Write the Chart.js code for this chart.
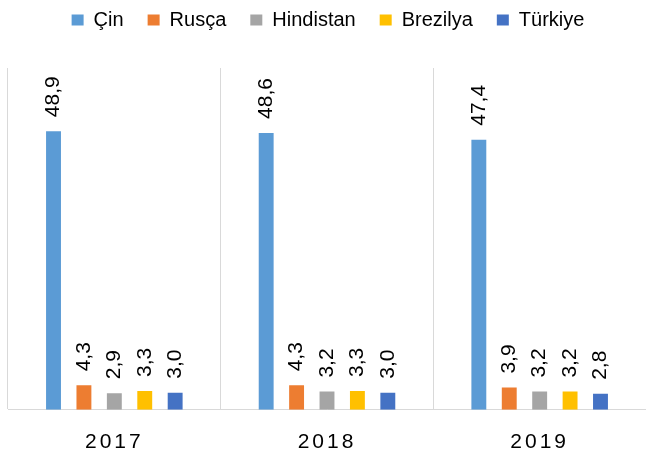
<!DOCTYPE html>
<html>
<head>
<meta charset="utf-8">
<script src="https://cdn.jsdelivr.net/npm/chart.js@4/dist/chart.umd.min.js"></script>
<style>
  html, body { margin: 0; padding: 0; background: #fff; }
  #wrap { width: 646px; height: 455px; }
</style>
</head>
<body>
<div id="wrap"><canvas id="chart"></canvas></div>
<script>
const years = ['2017', '2018', '2019'];
const cin = [48.9, 48.6, 47.4];
const rusca = [4.3, 4.3, 3.9];
const hindistan = [2.9, 3.2, 3.2];
const brezilya = [3.3, 3.3, 3.2];
const turkiye = [3.0, 3.0, 2.8];

const font = 'Liberation Sans';

// values drawn rotated above each bar, Excel style
const barLabels = {
  id: 'barLabels',
  afterDatasetsDraw(chart) {
    const ctx = chart.ctx;
    ctx.save();
    ctx.font = '21px "' + font + '"';
    ctx.fillStyle = '#000';
    ctx.textAlign = 'left';
    ctx.textBaseline = 'middle';
    chart.data.datasets.forEach((ds, i) => {
      chart.getDatasetMeta(i).data.forEach((bar, j) => {
        const txt = ds.data[j].toFixed(1).replace('.', ',');
        ctx.save();
        ctx.translate(bar.x, bar.y - 14);
        ctx.rotate(-Math.PI / 2);
        ctx.fillText(txt, 0, 0);
        ctx.restore();
      });
    });
    ctx.restore();
    // year labels are drawn after this (ticks z: 1), spaced out
    ctx.letterSpacing = '3px';
  },
  afterDraw(chart) {
    chart.ctx.letterSpacing = '0px';
  }
};

const legendGap = {
  id: 'legendGap',
  beforeInit(chart) {
    const fit = chart.legend.fit;
    chart.legend.fit = function () {
      fit.bind(chart.legend)();
      this.height += 28;
    };
  }
};

new Chart(document.getElementById('chart'), {
  type: 'bar',
  data: {
    labels: years,
    datasets: [
      { label: 'Çin', data: cin, backgroundColor: '#5b9bd5' },
      { label: 'Rusça', data: rusca, backgroundColor: '#ed7d31' },
      { label: 'Hindistan', data: hindistan, backgroundColor: '#a5a5a5' },
      { label: 'Brezilya', data: brezilya, backgroundColor: '#ffc000' },
      { label: 'Türkiye', data: turkiye, backgroundColor: '#4472c4' }
    ]
  },
  options: {
    responsive: true,
    maintainAspectRatio: false,
    animation: false,
    categoryPercentage: 0.715,
    barPercentage: 0.49,
    layout: { padding: { left: 8, right: -2, top: -14, bottom: -20 } },
    plugins: {
      legend: {
        position: 'top',
        labels: {
          boxWidth: 12,
          boxHeight: 11,
          padding: 24,
          color: '#000',
          font: { family: font, size: 20 }
        }
      },
      tooltip: { enabled: false }
    },
    scales: {
      x: {
        grid: { color: '#d9d9d9', drawTicks: false },
        border: { color: '#d9d9d9' },
        ticks: {
          z: 1,
          padding: 20,
          color: '#000',
          font: { family: font, size: 21 }
        }
      },
      y: {
        display: false,
        min: 0,
        max: 60
      }
    }
  },
  plugins: [barLabels, legendGap]
});
</script>
</body>
</html>
